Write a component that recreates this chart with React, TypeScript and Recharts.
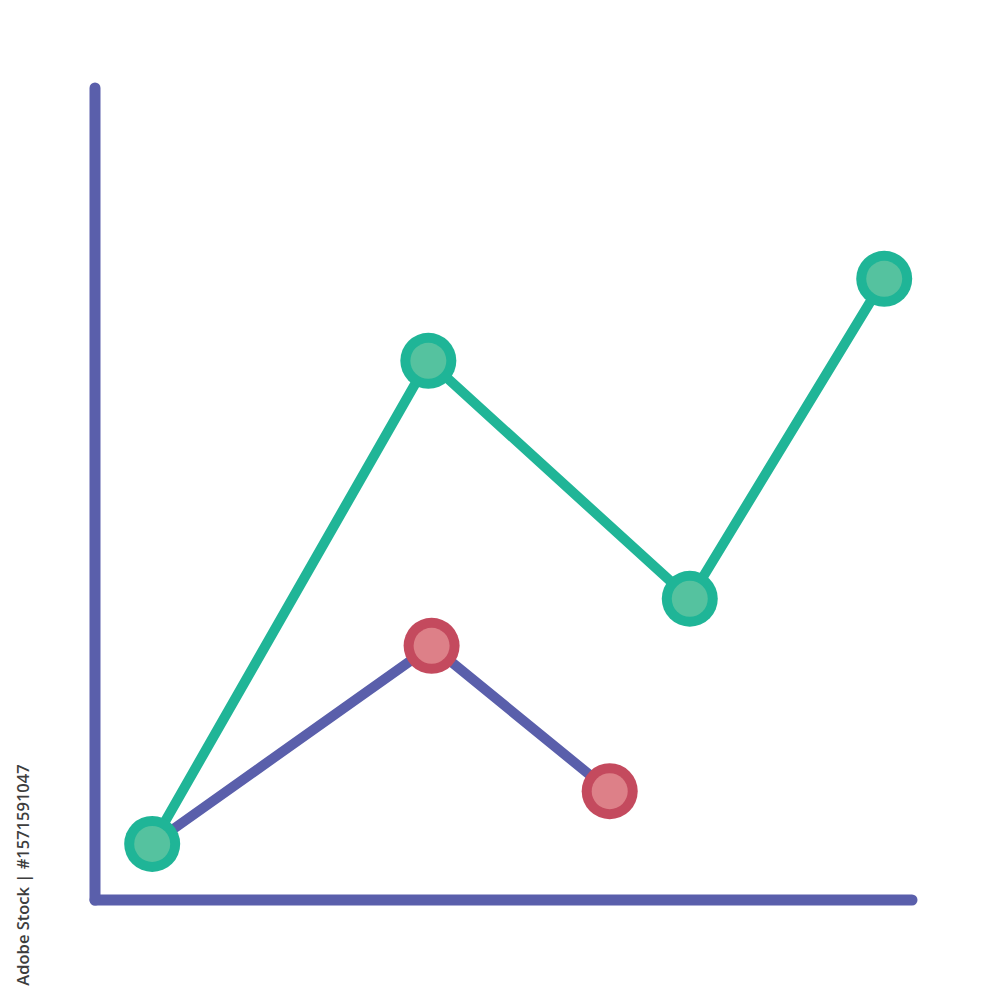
import { LineChart, Line, XAxis, YAxis, Customized } from "recharts";

// growth series (green)
const greenX = [7, 40.8, 72.8, 96.6];
const greenY = [6.9, 66.4, 37.1, 76.5];
// second series (purple line, red markers)
const redX = [7, 41.2, 63];
const redY = [6.9, 31.3, 13.4];

const greenData = greenX.map((x, i) => ({ x, y: greenY[i] }));
const redData = redX.map((x, i) => ({ x, y: redY[i] }));

const AXIS = "#5a5fab";

function makeDot(ring: string, fill: string, skipFirst = false) {
  return (props: any) => {
    const { cx, cy, index } = props;
    if (skipFirst && index === 0) return <g key={`d-${index}`} />;
    return (
      <g key={`d-${index}`}>
        <circle cx={cx} cy={cy} r={28} fill={ring} />
        <circle cx={cx} cy={cy} r={18} fill={fill} />
      </g>
    );
  };
}

const Watermark = () => (
  <text
    x={22}
    y={875}
    transform="rotate(-90 22 875)"
    textAnchor="middle"
    dominantBaseline="central"
    fontFamily="'Open Sans', sans-serif"
    fontSize={16.5}
    fontWeight={600}
    fill="#3d3d3d"
  >
    Adobe Stock | #1571591047
  </text>
);

export default function App() {
  return (
    <div style={{ position: "absolute", left: 0, top: 0, width: 1000, height: 1000, background: "#fff" }}>
      <LineChart
        width={1000}
        height={1000}
        margin={{ top: 88, right: 88, bottom: 80, left: 75 }}
      >
        <XAxis
          type="number"
          dataKey="x"
          domain={[0, 100]}
          height={20}
          tick={false}
          tickLine={false}
          axisLine={{ stroke: AXIS, strokeWidth: 11, strokeLinecap: "round" }}
        />
        <YAxis
          type="number"
          dataKey="y"
          domain={[0, 100]}
          width={20}
          tick={false}
          tickLine={false}
          axisLine={{ stroke: AXIS, strokeWidth: 11, strokeLinecap: "round" }}
        />
        <Line
          data={redData}
          dataKey="y"
          stroke={AXIS}
          strokeWidth={10}
          dot={makeDot("#c44a5e", "#dd8088", true)}
          activeDot={false}
          isAnimationActive={false}
        />
        <Line
          data={greenData}
          dataKey="y"
          stroke="#20b597"
          strokeWidth={10}
          dot={makeDot("#1fb597", "#55c29f")}
          activeDot={false}
          isAnimationActive={false}
        />
        <Customized component={Watermark} />
      </LineChart>
    </div>
  );
}
